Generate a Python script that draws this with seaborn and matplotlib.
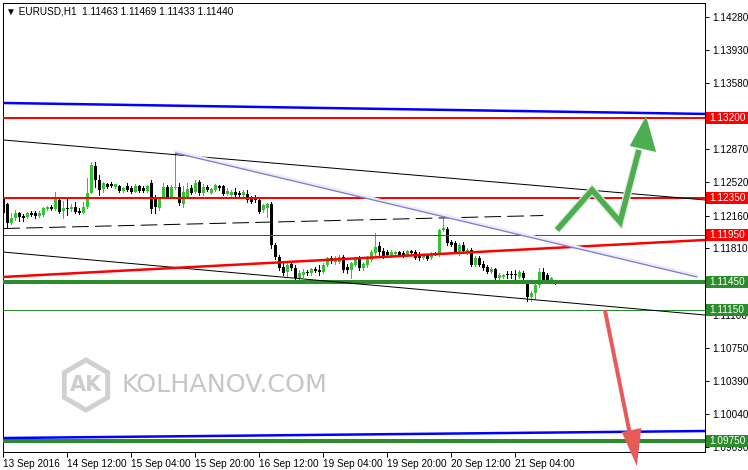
import numpy as np
import pandas as pd
import matplotlib
matplotlib.use("Agg")
import matplotlib.pyplot as plt
import matplotlib.transforms as mtransforms
from matplotlib.patches import Polygon, Rectangle, RegularPolygon
import seaborn as sns

# ---------------- data (EURUSD H1) ----------------
opens = [
    1.12348, 1.12284, 1.12081, 1.12135, 1.12188, 1.12156, 1.12146, 1.12188, 1.12188, 1.12156,
    1.12167, 1.12231, 1.12252, 1.12231, 1.12327, 1.12210, 1.12242, 1.12231, 1.12252, 1.12210,
    1.12188, 1.12252, 1.12402, 1.12690, 1.12541, 1.12444, 1.12498, 1.12498, 1.12466, 1.12476,
    1.12423, 1.12476, 1.12455, 1.12412, 1.12476, 1.12455, 1.12423, 1.12509, 1.12338, 1.12242,
    1.12359, 1.12466, 1.12359, 1.12455, 1.12466, 1.12284, 1.12359, 1.12455, 1.12412, 1.12519,
    1.12402, 1.12466, 1.12402, 1.12434, 1.12476, 1.12476, 1.12391, 1.12380, 1.12412, 1.12402,
    1.12380, 1.12391, 1.12348, 1.12359, 1.12327, 1.12220, 1.12242, 1.12284, 1.11847, 1.11719,
    1.11612, 1.11558, 1.11644, 1.11601, 1.11494, 1.11526, 1.11558, 1.11548, 1.11590, 1.11580,
    1.11558, 1.11633, 1.11708, 1.11665, 1.11665, 1.11719, 1.11612, 1.11580, 1.11633, 1.11708,
    1.11601, 1.11633, 1.11686, 1.11761, 1.11836, 1.11783, 1.11772, 1.11729, 1.11751, 1.11772,
    1.11761, 1.11740, 1.11783, 1.11772, 1.11751, 1.11708, 1.11740, 1.11708, 1.11761, 1.11740,
    1.12007, 1.12017, 1.11879, 1.11868, 1.11772, 1.11847, 1.11772, 1.11793, 1.11633, 1.11708,
    1.11644, 1.11612, 1.11558, 1.11590, 1.11494, 1.11505, 1.11537, 1.11537, 1.11537, 1.11505,
    1.11548, 1.11452, 1.11292, 1.11334, 1.11420, 1.11558, 1.11526, 1.11452, 1.11463]
highs = [
    1.12359, 1.12295, 1.12188, 1.12220, 1.12199, 1.12178, 1.12199, 1.12210, 1.12210, 1.12210,
    1.12252, 1.12263, 1.12274, 1.12412, 1.12359, 1.12316, 1.12348, 1.12284, 1.12306, 1.12242,
    1.12306, 1.12562, 1.12733, 1.12733, 1.12594, 1.12519, 1.12509, 1.12519, 1.12498, 1.12487,
    1.12466, 1.12509, 1.12476, 1.12498, 1.12487, 1.12476, 1.12487, 1.12541, 1.12380, 1.12348,
    1.12509, 1.12487, 1.12487, 1.12829, 1.12509, 1.12476, 1.12509, 1.12487, 1.12541, 1.12541,
    1.12498, 1.12487, 1.12455, 1.12498, 1.12487, 1.12487, 1.12455, 1.12434, 1.12455, 1.12423,
    1.12434, 1.12434, 1.12370, 1.12380, 1.12348, 1.12284, 1.12295, 1.12306, 1.11868, 1.11740,
    1.11654, 1.11654, 1.11665, 1.11633, 1.11580, 1.11590, 1.11580, 1.11601, 1.11612, 1.11633,
    1.11654, 1.11719, 1.11729, 1.11729, 1.11740, 1.11740, 1.11644, 1.11665, 1.11719, 1.11729,
    1.11665, 1.11729, 1.11793, 1.11975, 1.11879, 1.11815, 1.11793, 1.11793, 1.11783, 1.11783,
    1.11783, 1.11793, 1.11793, 1.11793, 1.11772, 1.11751, 1.11751, 1.11772, 1.11772, 1.12017,
    1.12135, 1.12039, 1.11900, 1.11889, 1.11868, 1.11879, 1.11815, 1.11815, 1.11729, 1.11729,
    1.11676, 1.11633, 1.11612, 1.11601, 1.11548, 1.11537, 1.11569, 1.11569, 1.11580, 1.11580,
    1.11569, 1.11473, 1.11356, 1.11441, 1.11601, 1.11601, 1.11548, 1.11505, 1.11469]
lows = [
    1.12178, 1.12028, 1.12071, 1.12113, 1.12103, 1.12103, 1.12135, 1.12156, 1.12135, 1.12146,
    1.12156, 1.12220, 1.12220, 1.12220, 1.12188, 1.12135, 1.12167, 1.12210, 1.12188, 1.12178,
    1.12188, 1.12242, 1.12402, 1.12466, 1.12380, 1.12412, 1.12455, 1.12466, 1.12455, 1.12412,
    1.12412, 1.12423, 1.12402, 1.12412, 1.12412, 1.12412, 1.12412, 1.12188, 1.12188, 1.12220,
    1.12348, 1.12348, 1.12348, 1.12444, 1.12274, 1.12252, 1.12348, 1.12391, 1.12402, 1.12380,
    1.12380, 1.12423, 1.12391, 1.12423, 1.12434, 1.12380, 1.12380, 1.12370, 1.12370, 1.12370,
    1.12370, 1.12306, 1.12295, 1.12306, 1.12188, 1.12199, 1.12146, 1.11815, 1.11697, 1.11580,
    1.11526, 1.11505, 1.11580, 1.11484, 1.11484, 1.11505, 1.11526, 1.11526, 1.11558, 1.11526,
    1.11548, 1.11622, 1.11654, 1.11644, 1.11654, 1.11558, 1.11548, 1.11494, 1.11622, 1.11580,
    1.11580, 1.11612, 1.11676, 1.11740, 1.11740, 1.11708, 1.11729, 1.11719, 1.11740, 1.11729,
    1.11719, 1.11729, 1.11751, 1.11697, 1.11686, 1.11697, 1.11686, 1.11697, 1.11740, 1.11729,
    1.11996, 1.11847, 1.11836, 1.11761, 1.11740, 1.11761, 1.11751, 1.11622, 1.11622, 1.11622,
    1.11580, 1.11548, 1.11548, 1.11484, 1.11484, 1.11494, 1.11494, 1.11494, 1.11473, 1.11494,
    1.11484, 1.11249, 1.11249, 1.11270, 1.11398, 1.11452, 1.11441, 1.11441, 1.11433]
closes = [
    1.12188, 1.12081, 1.12135, 1.12188, 1.12146, 1.12135, 1.12188, 1.12167, 1.12156, 1.12188,
    1.12242, 1.12252, 1.12231, 1.12348, 1.12199, 1.12242, 1.12231, 1.12252, 1.12199, 1.12188,
    1.12252, 1.12402, 1.12701, 1.12541, 1.12434, 1.12509, 1.12466, 1.12476, 1.12498, 1.12423,
    1.12455, 1.12434, 1.12412, 1.12476, 1.12423, 1.12423, 1.12476, 1.12231, 1.12252, 1.12348,
    1.12466, 1.12359, 1.12466, 1.12466, 1.12295, 1.12412, 1.12444, 1.12402, 1.12509, 1.12402,
    1.12466, 1.12434, 1.12444, 1.12487, 1.12455, 1.12391, 1.12423, 1.12412, 1.12380, 1.12380,
    1.12412, 1.12327, 1.12306, 1.12327, 1.12199, 1.12274, 1.12284, 1.11847, 1.11719, 1.11601,
    1.11548, 1.11633, 1.11601, 1.11494, 1.11548, 1.11558, 1.11548, 1.11590, 1.11569, 1.11558,
    1.11633, 1.11708, 1.11676, 1.11708, 1.11719, 1.11580, 1.11580, 1.11654, 1.11708, 1.11601,
    1.11644, 1.11708, 1.11772, 1.11825, 1.11772, 1.11729, 1.11740, 1.11772, 1.11772, 1.11740,
    1.11729, 1.11783, 1.11761, 1.11708, 1.11708, 1.11740, 1.11697, 1.11751, 1.11751, 1.12007,
    1.12028, 1.11868, 1.11847, 1.11772, 1.11847, 1.11783, 1.11793, 1.11633, 1.11708, 1.11633,
    1.11601, 1.11558, 1.11590, 1.11494, 1.11526, 1.11526, 1.11526, 1.11526, 1.11526, 1.11558,
    1.11494, 1.11292, 1.11334, 1.11420, 1.11558, 1.11473, 1.11462, 1.11494, 1.11440]

time_tick_bars = [0, 16, 32, 48, 64, 80, 96, 112, 128]
time_tick_labels = ["13 Sep 2016", "14 Sep 12:00", "15 Sep 04:00", "15 Sep 20:00",
                    "16 Sep 12:00", "19 Sep 04:00", "19 Sep 20:00", "20 Sep 12:00",
                    "21 Sep 04:00"]

price_ticks = [1.14280, 1.13930, 1.13580, 1.12870, 1.12520, 1.12160, 1.11810,
               1.11100, 1.10750, 1.10390, 1.10040, 1.09690]

level_prices = [1.13200, 1.12350, 1.11950, 1.11450, 1.11150, 1.09750]
level_labels = ["1.13200", "1.12350", "1.11950", "1.11450", "1.11150", "1.09750"]
level_colors = ["#ff0000", "#ff0000", "#ff0000", "#2a8c2a", "#2a8c2a", "#2a8c2a"]
level_widths_px = [2, 2, 1, 4, 1, 4]

# trend lines: (bar0, price0, bar1, price1)
trend_blue_top = [0, 1.13362, 175.4, 1.13245]
trend_blue_bottom = [0, 1.09786, 175.4, 1.09861]
trend_black_top = [0, 1.12967, 175.4, 1.12327]
trend_black_bottom = [0, 1.11771, 175.4, 1.11099]
trend_red = [0, 1.11505, 175.4, 1.11900]
trend_dashed = [0, 1.12022, 135, 1.12161]
trend_lavender = [43, 1.12829, 173.4, 1.11505]

# forecast arrows
green_path_bars = [138.4, 147.2, 154.2, 158.9]
green_path_prices = [1.12006, 1.12433, 1.12092, 1.12860]
green_head_bars = [160.7, 156.6, 163.2]
green_head_prices = [1.13223, 1.12903, 1.12839]
red_path_bars = [150.4, 156.7]
red_path_prices = [1.11152, 1.09818]
red_head_bars = [158.4, 154.6, 159.5]
red_head_prices = [1.09487, 1.09850, 1.09893]

title_text = "\u25bc EURUSD,H1  1.11463 1.11469 1.11433 1.11440"

# ---------------- figure ----------------
sns.set_theme(style="white")
plt.rcParams["font.family"] = ["Liberation Sans", "DejaVu Sans"]
plt.rcParams["lines.scale_dashes"] = False

W, H = 748, 470
PX = 0.72  # points per pixel at dpi 100
FS = 7.2
fig = plt.figure(figsize=(W / 100, H / 100), dpi=100)
fig.patch.set_facecolor("white")
ax = fig.add_axes([3 / W, 18 / H, 702 / W, 449 / H])
ax.set_facecolor("white")
ax.set_xlim(-0.075, 175.425)
ax.set_ylim(1.09637, 1.14429)

df = pd.DataFrame({"o": opens, "h": highs, "l": lows, "c": closes})
df["x"] = np.arange(len(df))
df["bull"] = df["c"] >= df["o"]

# watermark logo (behind)
logo_cx, logo_cy = 86, H - 385
hexa = RegularPolygon((logo_cx, logo_cy), numVertices=6, radius=25, orientation=0,
                      transform=mtransforms.IdentityTransform(), facecolor="none",
                      edgecolor="#d0d0d0", linewidth=3.5, zorder=0)
fig.patches.append(hexa)
fig.text(logo_cx / W, logo_cy / H, "AK", color="#cdcdcd", fontsize=15, fontweight="bold",
         family="DejaVu Sans", ha="center", va="center", zorder=0)
fig.text(121 / W, logo_cy / H, "KOLHANOV.COM", color="#c6c6c6", fontsize=18.3,
         family="DejaVu Sans", ha="left", va="center", zorder=0)

# candles
green_c = "#33c333"
for bull, sub in df.groupby("bull"):
    col = green_c if bull else "#000000"
    ax.vlines(sub["x"], sub["l"], sub["h"], color=col, linewidth=1 * PX, zorder=3,
              antialiased=False)
    body_lo = np.minimum(sub["o"], sub["c"])
    body_h = np.maximum(np.abs(sub["c"] - sub["o"]), 0.00009)
    ax.bar(sub["x"], body_h, bottom=body_lo, width=0.78, color=col, linewidth=0, zorder=3,
           antialiased=False)

# horizontal levels
for p, col, wpx in zip(level_prices, level_colors, level_widths_px):
    ax.axhline(p, color=col, linewidth=wpx * PX, zorder=5)


def trend(t, color, wpx, **kw):
    d = pd.DataFrame({"x": [t[0], t[2]], "y": [t[1], t[3]]})
    sns.lineplot(data=d, x="x", y="y", ax=ax, color=color, linewidth=wpx * PX,
                 legend=False, zorder=5, **kw)


trend(trend_black_top, "#000000", 1)
trend(trend_black_bottom, "#000000", 1)
trend(trend_blue_top, "#0000ff", 2.5)
trend(trend_blue_bottom, "#0000ff", 2.5)
trend(trend_red, "#ff0000", 2.5)
trend(trend_dashed, "#000000", 1, dashes=(12, 4.5))
# faint shadow under lavender line
trend([trend_lavender[0], trend_lavender[1] + 0.00015, trend_lavender[2], trend_lavender[3] + 0.00015],
      "#ececf2", 3)
trend(trend_lavender, "#7b7bdb", 1.3)

ax.set_xlabel("")
ax.set_ylabel("")

# arrows
ax.plot(green_path_bars, green_path_prices, color="#dfe9df", linewidth=8 * PX,
        solid_joinstyle="miter", solid_capstyle="butt", zorder=6, clip_on=False)
ax.plot(green_path_bars, green_path_prices, color="#4cae4f", linewidth=5.5 * PX,
        solid_joinstyle="miter", solid_capstyle="butt", zorder=7, clip_on=False)
ax.add_patch(Polygon(list(zip(green_head_bars, green_head_prices)), closed=True,
                     facecolor="#4cae4f", edgecolor="none", zorder=7, clip_on=False))
ax.plot(red_path_bars, red_path_prices, color="#e85a5a", linewidth=4 * PX,
        solid_capstyle="butt", zorder=7, clip_on=False)
ax.add_patch(Polygon(list(zip(red_head_bars, red_head_prices)), closed=True,
                     facecolor="#e85a5a", edgecolor="none", zorder=7, clip_on=False))

# axes frame & ticks
for s in ax.spines.values():
    s.set_color("black")
    s.set_linewidth(1 * PX)
    s.set_visible(True)

ax.yaxis.tick_right()
ax.set_yticks(price_ticks)
ax.set_yticklabels([f"{v:.5f}" for v in price_ticks])
ax.tick_params(axis="y", which="both", direction="out", length=3, width=0.7,
               color="black", pad=2.5, labelsize=FS, labelcolor="black", right=True, left=False)
ax.set_xticks(time_tick_bars)
ax.set_xticklabels(time_tick_labels)
ax.tick_params(axis="x", which="both", direction="out", length=3.5, width=0.7,
               color="black", pad=1.2, labelsize=FS, labelcolor="black", bottom=True)
for lbl in ax.get_xticklabels():
    lbl.set_ha("left")
ax.grid(False)

# coloured price labels at right
blend = mtransforms.blended_transform_factory(fig.transFigure, ax.transData)
box_h = 12 / 9368
for p, txt, col in zip(level_prices, level_labels, level_colors):
    fig.patches.append(Rectangle((706 / W, p - box_h / 2), 42 / W, box_h, transform=blend,
                                 facecolor=col, edgecolor="none", zorder=10))
    fig.text(709 / W, p, txt, transform=blend, color="white", fontsize=FS,
             ha="left", va="center", zorder=11)

fig.text(6 / W, 1 - 11 / H, title_text, fontsize=FS, color="black", ha="left", va="center")

fig.savefig("out.png", dpi=100)
